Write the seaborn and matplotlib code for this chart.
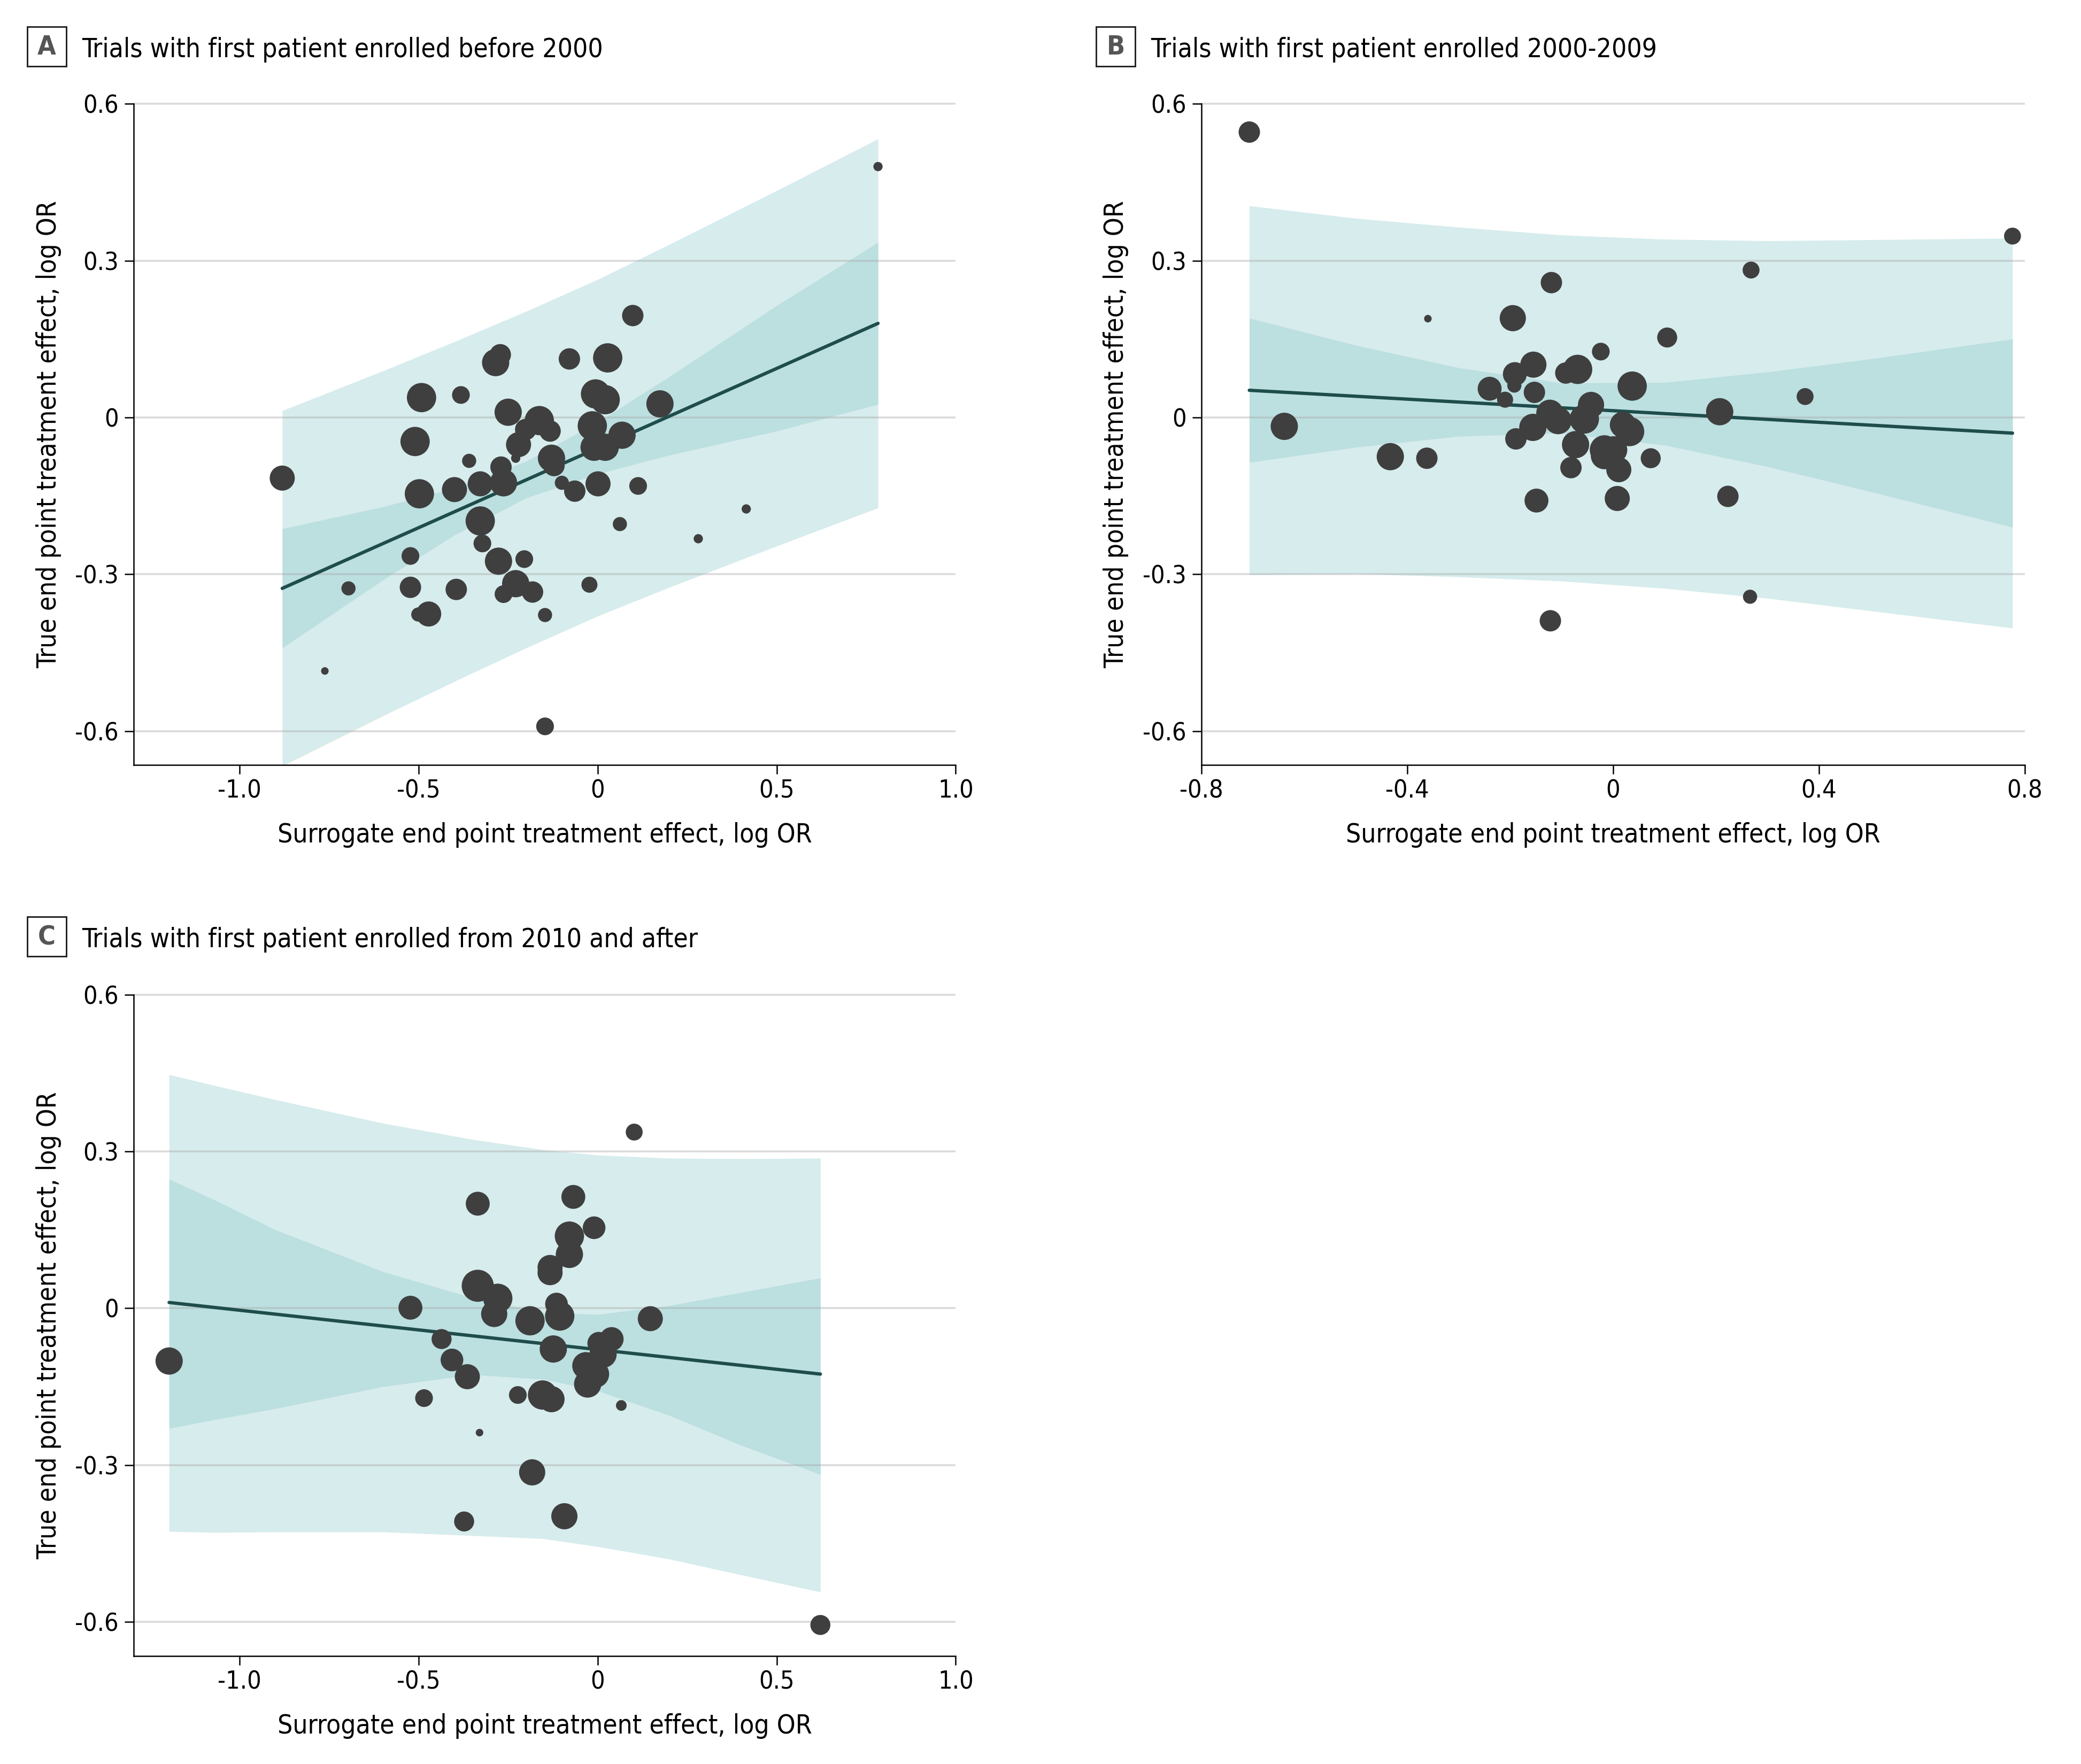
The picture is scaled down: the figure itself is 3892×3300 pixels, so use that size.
import numpy as np
import pandas as pd
import matplotlib
matplotlib.use("Agg")
import matplotlib.pyplot as plt
from matplotlib.patches import Rectangle
from matplotlib import font_manager
import seaborn as sns

# ---------------- data ----------------
# Panel A: trials with first patient enrolled before 2000
A_X = [-0.881, -0.762, -0.696, -0.523, -0.523, -0.501, -0.472, -0.492, -0.510, -0.498,
       -0.400, -0.395, -0.382, -0.359, -0.328, -0.328, -0.322, -0.277, -0.285, -0.272,
       -0.270, -0.263, -0.263, -0.250, -0.229, -0.221, -0.205, -0.229, -0.201, -0.182,
       -0.163, -0.133, -0.129, -0.122, -0.147, -0.147, -0.100, -0.079, -0.064, -0.015,
       -0.006, 0.021, -0.010, 0.021, 0.001, -0.023, 0.028, 0.068, 0.062, 0.098,
       0.113, 0.174, 0.281, 0.415, 0.783]
A_Y = [-0.116, -0.485, -0.327, -0.265, -0.325, -0.377, -0.376, 0.038, -0.046, -0.146,
       -0.138, -0.329, 0.043, -0.083, -0.127, -0.198, -0.241, -0.275, 0.105, 0.120,
       -0.095, -0.125, -0.338, 0.010, -0.078, -0.052, -0.271, -0.318, -0.023, -0.334,
       -0.006, -0.026, -0.078, -0.092, -0.378, -0.591, -0.125, 0.112, -0.141, -0.016,
       0.045, 0.034, -0.057, -0.057, -0.127, -0.320, 0.114, -0.034, -0.204, 0.195,
       -0.131, 0.026, -0.232, -0.175, 0.480]
A_W = [22, 2, 7, 11, 16, 7, 22, 30, 30, 30,
       22, 16, 11, 7, 22, 30, 11, 26, 26, 16,
       16, 26, 11, 26, 3, 22, 11, 26, 16, 16,
       30, 16, 26, 16, 7, 11, 7, 16, 16, 30,
       30, 30, 26, 26, 22, 9, 30, 26, 7, 16,
       11, 26, 3, 3, 3]
A_LINE_X = [-0.881, 0.783]
A_LINE_Y = [-0.327, 0.180]
A_BAND_X = [-0.881, -0.6, -0.4, -0.2, 0.0, 0.2, 0.5, 0.783]
A_CI_HI = [-0.213, -0.171, -0.135, -0.084, -0.009, 0.078, 0.214, 0.335]
A_CI_LO = [-0.441, -0.311, -0.225, -0.154, -0.108, -0.072, -0.026, 0.025]
A_PI_HI = [0.013, 0.089, 0.145, 0.203, 0.264, 0.331, 0.434, 0.533]
A_PI_LO = [-0.667, -0.571, -0.505, -0.441, -0.380, -0.325, -0.246, -0.173]

# Panel B: trials with first patient enrolled 2000-2009
B_X = [-0.707, -0.639, -0.433, -0.362, -0.360, -0.240, -0.210, -0.195, -0.191, -0.192,
       -0.189, -0.155, -0.153, -0.149, -0.156, -0.123, -0.120, -0.122, -0.107, -0.092,
       -0.082, -0.069, -0.073, -0.056, -0.043, -0.024, -0.017, -0.017, 0.001, 0.011,
       0.008, 0.019, 0.032, 0.037, 0.073, 0.105, 0.207, 0.223, 0.268, 0.266,
       0.373, 0.776]
B_Y = [0.546, -0.017, -0.075, -0.078, 0.189, 0.055, 0.034, 0.190, 0.083, 0.061,
       -0.041, 0.101, 0.048, -0.159, -0.019, 0.008, 0.258, -0.389, -0.006, 0.085,
       -0.096, 0.092, -0.052, -0.003, 0.024, 0.126, -0.062, -0.073, -0.062, -0.100,
       -0.155, -0.014, -0.027, 0.060, -0.078, 0.153, 0.011, -0.151, 0.282, -0.343,
       0.040, 0.347]
B_W = [16, 26, 26, 16, 2, 20, 9, 24, 20, 7,
       16, 24, 16, 20, 26, 26, 16, 16, 26, 16,
       16, 30, 26, 30, 24, 11, 30, 26, 26, 22,
       22, 24, 30, 30, 14, 14, 26, 16, 10, 7,
       10, 10]
B_LINE_X = [-0.707, 0.776]
B_LINE_Y = [0.052, -0.030]
B_BAND_X = [-0.707, -0.5, -0.3, -0.1, 0.1, 0.3, 0.5, 0.776]
B_CI_HI = [0.190, 0.138, 0.095, 0.066, 0.067, 0.087, 0.112, 0.150]
B_CI_LO = [-0.086, -0.057, -0.036, -0.030, -0.053, -0.094, -0.142, -0.210]
B_PI_HI = [0.405, 0.381, 0.364, 0.349, 0.341, 0.338, 0.340, 0.343]
B_PI_LO = [-0.301, -0.299, -0.305, -0.313, -0.327, -0.346, -0.370, -0.403]

# Panel C: trials with first patient enrolled from 2010 and after
C_X = [-1.197, -0.523, -0.485, -0.436, -0.407, -0.364, -0.373, -0.330, -0.335, -0.335,
       -0.279, -0.289, -0.223, -0.189, -0.183, -0.154, -0.129, -0.133, -0.133, -0.124,
       -0.115, -0.106, -0.093, -0.079, -0.079, -0.068, -0.010, -0.033, -0.006, -0.028,
       0.003, 0.015, 0.039, 0.066, 0.102, 0.147, 0.622]
C_Y = [-0.101, 0.001, -0.172, -0.059, -0.099, -0.131, -0.408, -0.238, 0.200, 0.043,
       0.019, -0.011, -0.166, -0.024, -0.314, -0.166, -0.174, 0.078, 0.068, -0.078,
       0.008, -0.015, -0.398, 0.138, 0.103, 0.213, 0.154, -0.110, -0.126, -0.145,
       -0.067, -0.088, -0.059, -0.186, 0.337, -0.020, -0.606]
C_W = [26, 20, 11, 14, 18, 22, 14, 2, 20, 36,
       30, 24, 11, 30, 24, 30, 24, 22, 22, 26,
       18, 30, 24, 30, 26, 20, 18, 26, 26, 26,
       18, 26, 20, 4, 10, 22, 14]
C_LINE_X = [-1.197, 0.622]
C_LINE_Y = [0.011, -0.126]
C_BAND_X = [-1.197, -1.07, -0.9, -0.6, -0.35, -0.15, 0.0, 0.2, 0.4, 0.622]
C_CI_HI = [0.247, 0.207, 0.150, 0.070, 0.020, -0.008, -0.012, 0.005, 0.030, 0.058]
C_CI_LO = [-0.230, -0.213, -0.192, -0.150, -0.127, -0.136, -0.158, -0.205, -0.262, -0.318]
C_PI_HI = [0.447, 0.426, 0.399, 0.354, 0.323, 0.303, 0.293, 0.287, 0.286, 0.287]
C_PI_LO = [-0.427, -0.429, -0.428, -0.428, -0.435, -0.441, -0.456, -0.480, -0.510, -0.543]

TITLES = ["Trials with first patient enrolled before 2000",
          "Trials with first patient enrolled 2000-2009",
          "Trials with first patient enrolled from 2010 and after"]
LETTERS = ["A", "B", "C"]
Y_TICKS = [-0.6, -0.3, 0.0, 0.3, 0.6]
Y_TICKLABELS = ["-0.6", "-0.3", "0", "0.3", "0.6"]
X_TICKS_AC = [-1.0, -0.5, 0.0, 0.5, 1.0]
X_TICKLABELS_AC = ["-1.0", "-0.5", "0", "0.5", "1.0"]
X_TICKS_B = [-0.8, -0.4, 0.0, 0.4, 0.8]
X_TICKLABELS_B = ["-0.8", "-0.4", "0", "0.4", "0.8"]
XLABEL = "Surrogate end point treatment effect, log OR"
YLABEL = "True end point treatment effect, log OR"

# ---------------- style ----------------
sns.set_theme(style="white")
names = {f.name for f in font_manager.fontManager.ttflist}
if "Liberation Sans Narrow" in names:
    FONT = "Liberation Sans Narrow"
    STRETCH = "normal"
else:
    FONT = "DejaVu Sans"
    STRETCH = "condensed"
plt.rcParams["font.family"] = [FONT, "DejaVu Sans"]
plt.rcParams["font.stretch"] = STRETCH

PI_COLOR = "#d7ecec"
CI_COLOR = "#bcdfe0"
LINE_COLOR = "#1f4d4c"
PT_COLOR = "#3f3f3f"

W, H = 3892, 3300
DPI = 300
fig = plt.figure(figsize=(W / DPI, H / DPI), dpi=DPI)


def fx(px):
    return px / W


def fy(py):
    return 1 - py / H


YLIM = (-0.665, 0.61)
top_px = 184.5
bot_px = 1431.2
ax_h = (bot_px - top_px) / H

pos_A = [fx(250), fy(bot_px), 1537.4 / W, ax_h]
pos_B = [fx(2247), fy(bot_px), 1540 / W, ax_h]
pos_C = [fx(250), fy(3097.6), 1537.4 / W, ax_h]

TICK_FS = 11.2
LABEL_FS = 11.9


def panel(pos, xs, ys, ws, lx, ly, bx, ci_hi, ci_lo, pi_hi, pi_lo,
          xlim, xticks, xticklabels):
    ax = fig.add_axes(pos)
    ax.set_facecolor("white")
    for yv in Y_TICKS:
        ax.axhline(yv, color="#a8a8a8", alpha=0.42, lw=0.85, zorder=2)
    ax.fill_between(bx, pi_lo, pi_hi, color=PI_COLOR, lw=0, zorder=1)
    ax.fill_between(bx, ci_lo, ci_hi, color=CI_COLOR, lw=0, zorder=1.5)
    sns.lineplot(x=lx, y=ly, color=LINE_COLOR, lw=1.5, ax=ax, zorder=3)
    df = pd.DataFrame({"x": xs, "y": ys, "w": ws})
    sns.scatterplot(data=df, x="x", y="y", size="w", sizes=(0, 230.4),
                    size_norm=(0, 40), color=PT_COLOR, edgecolor="none",
                    linewidth=0, legend=False, ax=ax, zorder=4)
    ax.set_xlim(*xlim)
    ax.set_ylim(*YLIM)
    ax.set_xticks(xticks)
    ax.set_xticklabels(xticklabels)
    ax.set_yticks(Y_TICKS)
    ax.set_yticklabels(Y_TICKLABELS)
    for s in ["top", "right"]:
        ax.spines[s].set_visible(False)
    for s in ["left", "bottom"]:
        ax.spines[s].set_color("black")
        ax.spines[s].set_linewidth(0.6)
    ax.spines["left"].set_bounds(YLIM[0], 0.6)
    ax.tick_params(axis="both", which="major", direction="out", length=4.1,
                   width=0.6, color="black", labelsize=TICK_FS, labelcolor="black",
                   left=True, bottom=True)
    ax.tick_params(axis="y", pad=2.6)
    ax.tick_params(axis="x", pad=2.3)
    ax.grid(False)
    ax.set_xlabel(XLABEL, fontsize=LABEL_FS, color="black")
    ax.set_ylabel(YLABEL, fontsize=LABEL_FS, color="black")
    ax.xaxis.set_label_coords(0.5, -0.086)
    ax.yaxis.set_label_coords(-0.088, 0.496)
    return ax


panel(pos_A, A_X, A_Y, A_W, A_LINE_X, A_LINE_Y, A_BAND_X, A_CI_HI, A_CI_LO,
      A_PI_HI, A_PI_LO, (-1.296, 1.0), X_TICKS_AC, X_TICKLABELS_AC)
panel(pos_B, B_X, B_Y, B_W, B_LINE_X, B_LINE_Y, B_BAND_X, B_CI_HI, B_CI_LO,
      B_PI_HI, B_PI_LO, (-0.8, 0.8), X_TICKS_B, X_TICKLABELS_B)
panel(pos_C, C_X, C_Y, C_W, C_LINE_X, C_LINE_Y, C_BAND_X, C_CI_HI, C_CI_LO,
      C_PI_HI, C_PI_LO, (-1.296, 1.0), X_TICKS_AC, X_TICKLABELS_AC)

# panel headers: boxed letter + title
HEAD = [(51, 50, 153, 107), (2050, 50, 2152, 107), (51, 1715, 153, 1772)]
for (bx0, by0, tx, tb), letter, title in zip(HEAD, LETTERS, TITLES):
    fig.add_artist(Rectangle((fx(bx0), fy(by0 + 74)), 73 / W, 74 / H,
                             transform=fig.transFigure, fill=True,
                             facecolor="white", edgecolor="#222222", lw=0.7))
    fig.text(fx(bx0 + 36.5), fy(by0 + 38), letter, ha="center", va="center",
             fontsize=12, fontweight="bold", color="#555555")
    fig.text(fx(tx), fy(tb), title, ha="left", va="baseline",
             fontsize=LABEL_FS, color="black")

fig.savefig("out.png", dpi=DPI, facecolor="white")
